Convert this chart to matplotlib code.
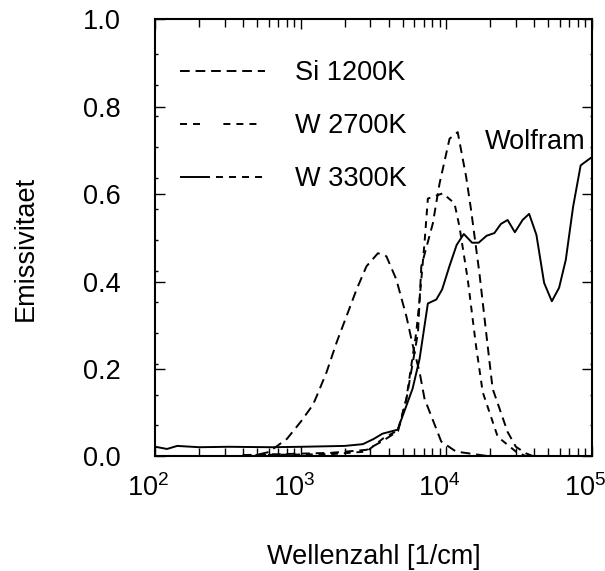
import numpy as np
import matplotlib
matplotlib.use("Agg")
import matplotlib.pyplot as plt
from matplotlib.lines import Line2D
from matplotlib.ticker import FixedLocator, LogLocator, NullFormatter
from matplotlib.transforms import ScaledTranslation

plt.rcParams['font.family'] = ['Liberation Sans', 'DejaVu Sans']
plt.rcParams['font.size'] = 19.5

# wavenumber [1/cm] and emissivity
si_x = [316, 450, 600, 800, 1000, 1208, 1279, 1500, 1758, 2056, 2410, 2818, 3381, 3864,
        4519, 5297, 5875, 6531, 7063, 9204, 11641, 19950]
si_y = [0.0, 0.0, 0.01, 0.04, 0.08, 0.118, 0.137, 0.193, 0.261, 0.321, 0.382, 0.435, 0.465, 0.458,
        0.405, 0.321, 0.253, 0.193, 0.132, 0.034, 0.011, 0.0]

w27_x = [398, 1585, 2818, 3664, 4645, 5297, 6194, 6531, 7063, 7447, 9441, 11350,
         12274, 13996, 15959, 17742, 22491, 29992, 35481]
w27_y = [0.003, 0.005, 0.011, 0.041, 0.06, 0.132, 0.283, 0.359, 0.489, 0.59, 0.602, 0.579,
         0.526, 0.405, 0.253, 0.147, 0.045, 0.011, 0.0]

w33_x = [398, 1585, 2818, 3631, 4645, 5297, 6368, 6714, 8054, 8954, 10495, 11940,
         13646, 14757, 16827, 19187, 20749, 26303, 29992, 35156, 39811]
w33_y = [0.003, 0.008, 0.015, 0.035, 0.058, 0.13, 0.283, 0.435, 0.533, 0.624, 0.727, 0.742,
         0.64, 0.564, 0.42, 0.253, 0.155, 0.056, 0.022, 0.007, 0.0]

wolf_x = [100, 120, 141, 200, 316, 631, 1000, 1995, 2661, 3162, 3631, 4613, 5848, 6531,
          7447, 8511, 9333, 10471, 11749, 13152, 14997, 16634, 18880, 21330, 23659,
          26303, 29512, 33343, 36983, 41495, 46881, 52966, 59429, 66069, 74131, 83560,
          94406, 100000]
wolf_y = [0.022, 0.017, 0.024, 0.021, 0.022, 0.021, 0.022, 0.024, 0.028, 0.04, 0.052, 0.061,
          0.155, 0.223, 0.35, 0.359, 0.382, 0.435, 0.484, 0.509, 0.489, 0.489, 0.505, 0.511,
          0.532, 0.541, 0.513, 0.541, 0.555, 0.507, 0.397, 0.355, 0.386, 0.45, 0.571, 0.666,
          0.679, 0.685]

fig = plt.figure(figsize=(6.05, 5.71), dpi=100)
ax = fig.add_axes([0.257, 0.2007, 0.7215, 0.7653])

lw = 1.4
ax.plot(si_x, si_y, color='black', lw=lw, linestyle=(0, (5, 3)))
ax.plot(w27_x, w27_y, color='black', lw=lw, linestyle=(0, (3.5, 3)))
ax.plot(w33_x, w33_y, color='black', lw=lw, linestyle=(0, (4.5, 3)))
ax.plot(wolf_x, wolf_y, color='black', lw=lw)

ax.set_xscale('log')
ax.set_xlim(1e2, 1e5)
ax.set_ylim(0, 1.0)
ax.set_yticks([0.0, 0.2, 0.4, 0.6, 0.8, 1.0])
ax.set_yticklabels(['0.0', '0.2', '0.4', '0.6', '0.8', '1.0'])
ax.yaxis.set_minor_locator(FixedLocator(np.arange(0.0708, 0.95, 0.0708)))
ax.xaxis.set_minor_locator(LogLocator(base=10, subs=np.arange(2, 10), numticks=20))
ax.xaxis.set_minor_formatter(NullFormatter())

for s in ax.spines.values():
    s.set_linewidth(1.5)
ax.tick_params(which='both', direction='in', top=True, right=True, width=1.0)
ax.tick_params(axis='x', which='major', length=7, pad=13)
ax.tick_params(axis='x', which='minor', length=5.5)
ax.tick_params(axis='y', which='major', length=7, pad=25)
ax.tick_params(axis='y', which='minor', length=1.8)

# shift decade labels a bit left like the original
offset = ScaledTranslation(-7 / 100, 0, fig.dpi_scale_trans)
for label in ax.get_xticklabels():
    label.set_transform(label.get_transform() + offset)

ax.set_xlabel('Wellenzahl [1/cm]')
ax.xaxis.set_label_coords(0.5, -0.2)
ax.set_ylabel('Emissivitaet', va='center', ha='center')
ax.yaxis.set_label_coords(-0.298, 0.477)

ax.text(0.986, 0.72, 'Wolfram', transform=ax.transAxes, ha='right', va='center')

# legend samples as in the original (odd dash patterns)
handles = [
    Line2D([], [], color='black', lw=lw, linestyle=(0, (5, 3))),
    Line2D([], [], color='black', lw=lw, linestyle=(0, (3.6, 3.1, 3.6, 12, 3.6, 3.1, 3.6, 3.1, 3.6, 7, 1.5, 5))),
    Line2D([], [], color='black', lw=lw, linestyle=(0, (15.4, 3.1, 3.6, 3.1, 3.6, 3.1, 3.6, 3.1, 3.6, 10))),
]
labels = ['Si 1200K', 'W 2700K', 'W 3300K']
ax.legend(handles, labels, loc='upper left', bbox_to_anchor=(0.056, 0.907),
          frameon=False, borderpad=0, borderaxespad=0, handlelength=3.15,
          handletextpad=1.1, labelspacing=1.0)

fig.savefig('out.png', dpi=100)
